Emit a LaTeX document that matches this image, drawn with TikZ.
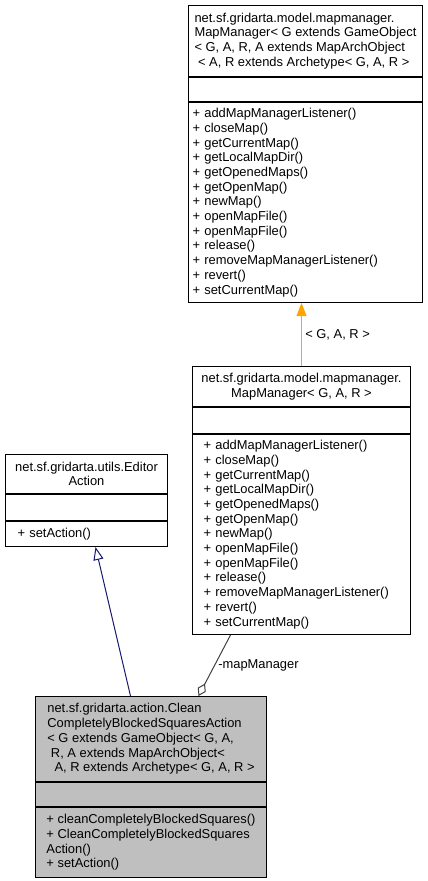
\documentclass[tikz,border=0pt]{standalone}
\usepackage{fontspec}
\setmainfont{Liberation Sans}
\usepackage{xcolor}
\usepackage{tikz}
\definecolor{dxorange}{HTML}{FFA500}
\definecolor{dxnavy}{HTML}{191970}
\definecolor{dxgrey}{HTML}{404040}
\definecolor{dxfill}{HTML}{BFBFBF}
\usetikzlibrary{arrows.meta, positioning}

\begin{document}
\begin{tikzpicture}[
    x=1pt, y=-1pt,
    node distance=0pt,
    font=\fontsize{12.9}{14.7}\selectfont,
    part/.style={rectangle, draw=black, line width=1pt, inner xsep=2pt, inner ysep=2pt, align=left},
    head/.style={part, anchor=north west},
    ops/.style={part, align=left},
]
\useasboundingbox (0,0) rectangle (428,881);

\node[head, minimum width=234pt, minimum height=71pt] (generic) at (188,5) {net.sf.gridarta.model.mapmanager.\\MapManager< G extends GameObject\\< G, A, R, A extends MapArchObject\\\hspace*{3.6pt}< A, R extends Archetype< G, A, R >};
\node[part, below=of generic, minimum width=234pt, minimum height=24pt] (genericattr) {};
\node[ops, below=of genericattr, minimum width=234pt, minimum height=200pt, text width=226pt, inner xsep=4pt] (genericops) {+ addMapManagerListener()\\+ closeMap()\\+ getCurrentMap()\\+ getLocalMapDir()\\+ getOpenedMaps()\\+ getOpenMap()\\+ newMap()\\+ openMapFile()\\+ openMapFile()\\+ release()\\+ removeMapManagerListener()\\+ revert()\\+ setCurrentMap()};

\node[head, align=center, minimum width=218pt, minimum height=40pt] (manager) at (192,366) {net.sf.gridarta.model.mapmanager.\\MapManager< G, A, R >};
\node[part, below=of manager, minimum width=218pt, minimum height=26pt] (managerattr) {};
\node[ops, below=of managerattr, minimum width=218pt, minimum height=200pt, text width=196pt, inner xsep=11pt] (managerops) {+ addMapManagerListener()\\+ closeMap()\\+ getCurrentMap()\\+ getLocalMapDir()\\+ getOpenedMaps()\\+ getOpenMap()\\+ newMap()\\+ openMapFile()\\+ openMapFile()\\+ release()\\+ removeMapManagerListener()\\+ revert()\\+ setCurrentMap()};

\node[head, align=center, minimum width=162pt, minimum height=39pt] (editor) at (5,454) {net.sf.gridarta.utils.Editor\\Action};
\node[part, below=of editor, minimum width=162pt, minimum height=26pt] (editorattr) {};
\node[ops, below=of editorattr, minimum width=162pt, minimum height=25pt, text width=138pt, inner xsep=12pt] (editorops) {+ setAction()};

\node[head, fill=dxfill, minimum width=231pt, minimum height=85pt] (clean) at (35,696) {net.sf.gridarta.action.Clean\\CompletelyBlockedSquaresAction\\< G extends GameObject< G, A,\\\hspace*{3.6pt}R, A extends MapArchObject<\\\hspace*{7.2pt}A, R extends Archetype< G, A, R >};
\node[part, fill=dxfill, below=of clean, minimum width=231pt, minimum height=24pt] (cleanattr) {};
\node[ops, fill=dxfill, below=of cleanattr, minimum width=231pt, minimum height=70pt] (cleanops) {+ cleanCompletelyBlockedSquares()\\+ CleanCompletelyBlockedSquares\\Action()\\+ setAction()};

\draw[dxorange, line width=1pt, -{Triangle[length=13pt, width=10pt]}] (manager.north) -- (manager.north |- genericops.south) node[midway, right, text=black] {< G, A, R >};
\draw[dxnavy, line width=1pt, -{Triangle[open, length=13pt, width=10pt, fill=white]}] ([xshift=-20.5pt]clean.north) -- ([xshift=9pt]editorops.south);
\draw[dxgrey, line width=1pt, {Diamond[open, length=14pt, width=9pt, fill=white]}-] ([xshift=47.5pt]clean.north) -- ([xshift=-71pt]managerops.south) node[midway, right, text=black] {-mapManager};
\end{tikzpicture}
\end{document}
